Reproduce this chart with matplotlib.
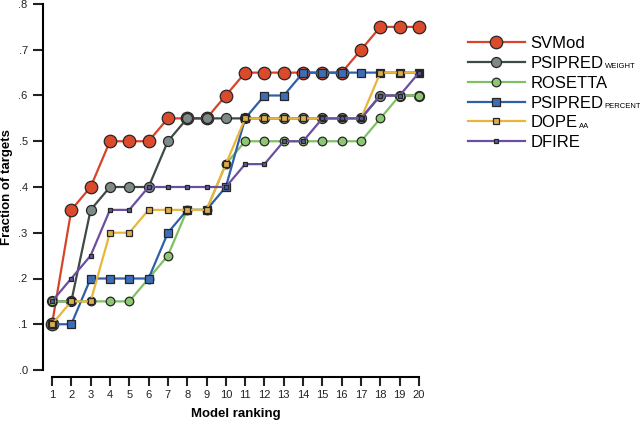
import numpy as np
import matplotlib
matplotlib.use('Agg')
import matplotlib.pyplot as plt
from matplotlib.ticker import FuncFormatter

plt.rcParams['font.family'] = ['Liberation Sans', 'DejaVu Sans']

ranks = np.arange(1, 21)

svmod = [0.10, 0.35, 0.40, 0.50, 0.50, 0.50, 0.55, 0.55, 0.55, 0.60,
         0.65, 0.65, 0.65, 0.65, 0.65, 0.65, 0.70, 0.75, 0.75, 0.75]
psipred_weight = [0.15, 0.15, 0.35, 0.40, 0.40, 0.40, 0.50, 0.55, 0.55, 0.55,
                  0.55, 0.55, 0.55, 0.55, 0.55, 0.55, 0.55, 0.60, 0.60, 0.60]
rosetta = [0.15, 0.15, 0.15, 0.15, 0.15, 0.20, 0.25, 0.35, 0.35, 0.45,
           0.50, 0.50, 0.50, 0.50, 0.50, 0.50, 0.50, 0.55, 0.60, 0.60]
psipred_percent = [0.10, 0.10, 0.20, 0.20, 0.20, 0.20, 0.30, 0.35, 0.35, 0.40,
                   0.55, 0.60, 0.60, 0.65, 0.65, 0.65, 0.65, 0.65, 0.65, 0.65]
dope_aa = [0.10, 0.15, 0.15, 0.30, 0.30, 0.35, 0.35, 0.35, 0.35, 0.45,
           0.55, 0.55, 0.55, 0.55, 0.55, 0.55, 0.55, 0.65, 0.65, 0.65]
dfire = [0.15, 0.20, 0.25, 0.35, 0.35, 0.40, 0.40, 0.40, 0.40, 0.40,
         0.45, 0.45, 0.50, 0.50, 0.55, 0.55, 0.55, 0.60, 0.60, 0.65]

names = ['SVMod', 'PSIPRED', 'ROSETTA', 'PSIPRED', 'DOPE', 'DFIRE']
subs = ['', 'WEIGHT', '', 'PERCENT', 'AA', '']

# (line colour, marker fill, marker, size)
styles = [('#d8432b', '#dc4a2c', 'o', 9.0),
          ('#3e4a46', '#7d8a88', 'o', 7.2),
          ('#80c063', '#8cc872', 'o', 6.2),
          ('#2f5fa9', '#3d6db6', 's', 5.4),
          ('#e9b53c', '#dcae4c', 's', 4.6),
          ('#6b4fa0', '#5b5b9c', 's', 3.4)]

fig = plt.figure(figsize=(6.4, 4.24), dpi=100)
ax = fig.add_axes([52/640, 1-370/424, 367/640, 366/424])

series = [svmod, psipred_weight, rosetta, psipred_percent, dope_aa, dfire]
for vals, lab, (lc, mc, mk, ms) in zip(series, names, styles):
    ax.plot(ranks, vals, color=lc, lw=1.6, marker=mk, ms=ms, mfc=mc,
            mec='#262626', mew=0.9, label=lab, clip_on=False)

ax.set_xlim(1, 20)
ax.set_ylim(0, 0.8)
ax.set_xticks(ranks)
ax.set_yticks(np.arange(0, 0.81, 0.1))
ax.yaxis.set_major_formatter(FuncFormatter(lambda v, p: '.%d' % int(round(v*10))))

for s in ['top', 'right']:
    ax.spines[s].set_visible(False)
ax.spines['left'].set_position(('outward', 6.5))
ax.spines['bottom'].set_position(('outward', 5))
ax.spines['left'].set_linewidth(1.5)
ax.spines['bottom'].set_linewidth(1.5)
ax.tick_params(axis='both', direction='out', width=1.5, labelsize=8, colors='#222222')
ax.tick_params(axis='y', length=7, pad=4)
ax.tick_params(axis='x', length=6.5, pad=3)

ax.set_xlabel('Model ranking', fontsize=9.5, fontweight='bold', labelpad=6)
ax.set_ylabel('Fraction of targets', fontsize=9.5, fontweight='bold', labelpad=4)

leg = ax.legend(loc='upper left', bbox_to_anchor=(468/640, 1-36/424), bbox_transform=fig.transFigure,
                frameon=False, fontsize=12, handlelength=3.4, handletextpad=0.36,
                labelspacing=0.29, borderaxespad=0, borderpad=0)

# small subscripts next to the legend names, placed after layout
fig.canvas.draw()
inv = fig.transFigure.inverted()
for t, sub in zip(leg.get_texts(), subs):
    if sub:
        bb = t.get_window_extent()
        x0, y0 = inv.transform((bb.x1 + 1, bb.y0 + 2.5))
        fig.text(x0, y0, sub, fontsize=5.5, va='baseline', ha='left')

fig.savefig('out.png', dpi=100)
